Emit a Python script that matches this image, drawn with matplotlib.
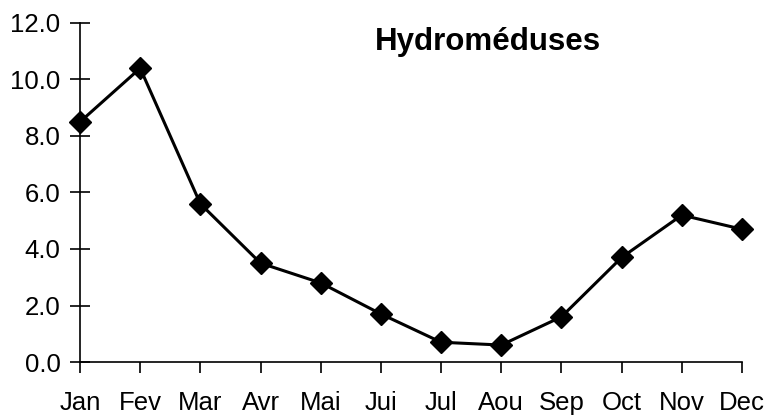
import numpy as np
import matplotlib.pyplot as plt

plt.rcParams['font.family'] = ['Liberation Sans', 'DejaVu Sans']

months = ['Jan', 'Fev', 'Mar', 'Avr', 'Mai', 'Jui', 'Jul', 'Aou', 'Sep', 'Oct', 'Nov', 'Dec']
hydromeduses = [8.5, 10.4, 5.6, 3.5, 2.8, 1.7, 0.7, 0.6, 1.6, 3.7, 5.2, 4.7]
yticks = [0, 2, 4, 6, 8, 10, 12]

fig = plt.figure(figsize=(7.69, 4.19), dpi=100)
ax = fig.add_axes([80 / 769, 1 - 362 / 419, (742 - 80) / 769, (362 - 23) / 419])

x = np.arange(len(months))
ax.plot(x, hydromeduses, color='black', lw=2.2, marker='D', markersize=11,
        markerfacecolor='black', clip_on=False, zorder=3)

ax.set_xlim(0, len(months) - 1)
ax.set_ylim(0, 12)
ax.set_xticks(x)
ax.set_xticklabels(months)
ax.set_yticks(yticks)
ax.set_yticklabels([f'{v:.1f}' for v in yticks])

for side in ('top', 'right'):
    ax.spines[side].set_visible(False)
for side in ('left', 'bottom'):
    ax.spines[side].set_linewidth(1.2)

ax.tick_params(axis='y', direction='inout', length=14, width=1.2, labelsize=18.5, pad=7)
ax.tick_params(axis='x', direction='out', length=8, width=1.2, labelsize=18.5, pad=13)

ax.text(0.445, 0.945, 'Hydroméduses', transform=ax.transAxes, fontsize=22.5,
        fontweight='bold', ha='left', va='center')

fig.savefig('out.png', dpi=100)
